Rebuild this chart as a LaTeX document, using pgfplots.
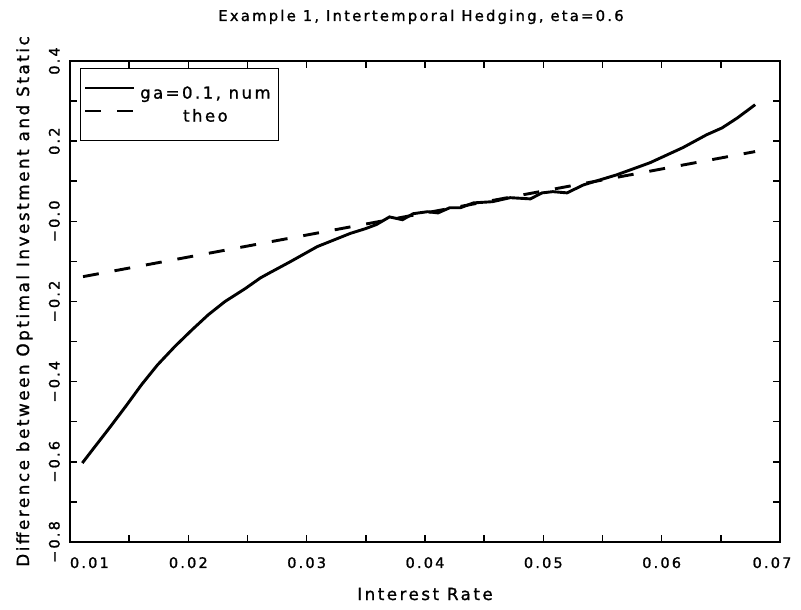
\documentclass[border=0pt]{standalone}
\usepackage{fontspec}
\setmainfont{DejaVu Sans}[LetterSpace=15,FakeBold=1.2]
\usepackage{pgfplots}
\pgfplotsset{compat=1.18}
\begin{document}
\begin{tikzpicture}
\useasboundingbox (-70pt,-68pt) rectangle (731pt,542pt);
\begin{axis}[
  scale only axis, width=710pt, height=481pt,
  at={(0pt,0pt)}, anchor=south west,
  xmin=0.01, xmax=0.07, ymin=-0.8, ymax=0.4,
  scaled x ticks=false, scaled y ticks=false,
  xtick={0.01,0.02,0.03,0.04,0.05,0.06,0.07},
  xticklabels={\makebox[0pt][l]{0.01},0.02,0.03,0.04,0.05,0.06,\makebox[0pt]{\hspace*{-16pt}0.07}},
  minor x tick num=1,
  ytick={-0.8,-0.6,-0.4,-0.2,0,0.2,0.4},
  yticklabels={−0.8,−0.6,−0.4,−0.2,−0.0,0.2,0.4},
  minor y tick num=1,
  tick align=inside,
  major tick length=7pt, minor tick length=7pt,
  every tick/.style={black, line width=1.5pt},
  axis line style={line width=2.6pt},
  /pgf/number format/assume math mode=true,
  xticklabel style={anchor=north, inner sep=0pt, font=\fontsize{14.5}{16}\selectfont},
  xticklabel shift=15pt,
  yticklabel style={rotate=90, anchor=south, inner sep=0pt, font=\fontsize{14.5}{16}\selectfont},
  yticklabel shift=10pt,
  title={Example 1, Intertemporal Hedging, eta=0.6},
  title style={at={(axis description cs:0.5,1.0707)}, anchor=base, xshift=-4pt, font=\fontsize{14.8}{18}\selectfont},
  xlabel={Interest Rate},
  xlabel style={at={(axis description cs:0.5,-0.1206)}, anchor=base, font=\fontsize{16.7}{19}\selectfont},
  ylabel={Difference between Optimal Investment and Static},
  ylabel style={at={(axis description cs:-0.0577,0.5)}, anchor=base, font=\fontsize{16.8}{19}\selectfont},
  legend style={at={(axis description cs:0.01408,0.98545)}, anchor=north west, draw=black, line width=1.2pt,
    inner xsep=3.5pt, inner ysep=13pt, row sep=0pt,
    nodes={minimum width=139pt, inner xsep=2pt, inner ysep=5pt, text height=12pt, text depth=1pt},
    /tikz/every even column/.append style={column sep=6pt}},
  legend image code/.code={\draw[#1,line width=2.8pt] (0pt,5pt) -- (49pt,5pt);},
]
\addplot[black, line width=2.9pt] coordinates {
(0.01104,-0.603) (0.0119,-0.570) (0.01324,-0.519) (0.0147,-0.462) (0.01606,-0.407)
(0.0174,-0.358) (0.01887,-0.312) (0.0203,-0.271) (0.02169,-0.233) (0.0231,-0.200)
(0.0248,-0.168) (0.0261,-0.141) (0.0269,-0.128) (0.0286,-0.101) (0.0309,-0.063)
(0.0337,-0.030) (0.0350,-0.018) (0.0359,-0.008) (0.0370,0.011) (0.0381,0.004)
(0.0390,0.019) (0.0402,0.024) (0.0411,0.021) (0.0421,0.034) (0.0430,0.034)
(0.0441,0.046) (0.0457,0.049) (0.0472,0.059) (0.0489,0.056) (0.0499,0.071)
(0.0508,0.074) (0.0520,0.071) (0.0534,0.091) (0.0562,0.116) (0.0590,0.146)
(0.0618,0.184) (0.0638,0.216) (0.0651,0.233) (0.0664,0.258) (0.0679,0.291)
};
\addlegendentry{\fontsize{16.5}{19}\selectfont ga=0.1, num}
\addplot[black, line width=2.9pt, dash pattern=on 16pt off 16pt] coordinates {
(0.0111,-0.138) (0.0679,0.174)
};
\addlegendentry{\fontsize{16.5}{19}\selectfont theo}
\end{axis}
\end{tikzpicture}
\end{document}
